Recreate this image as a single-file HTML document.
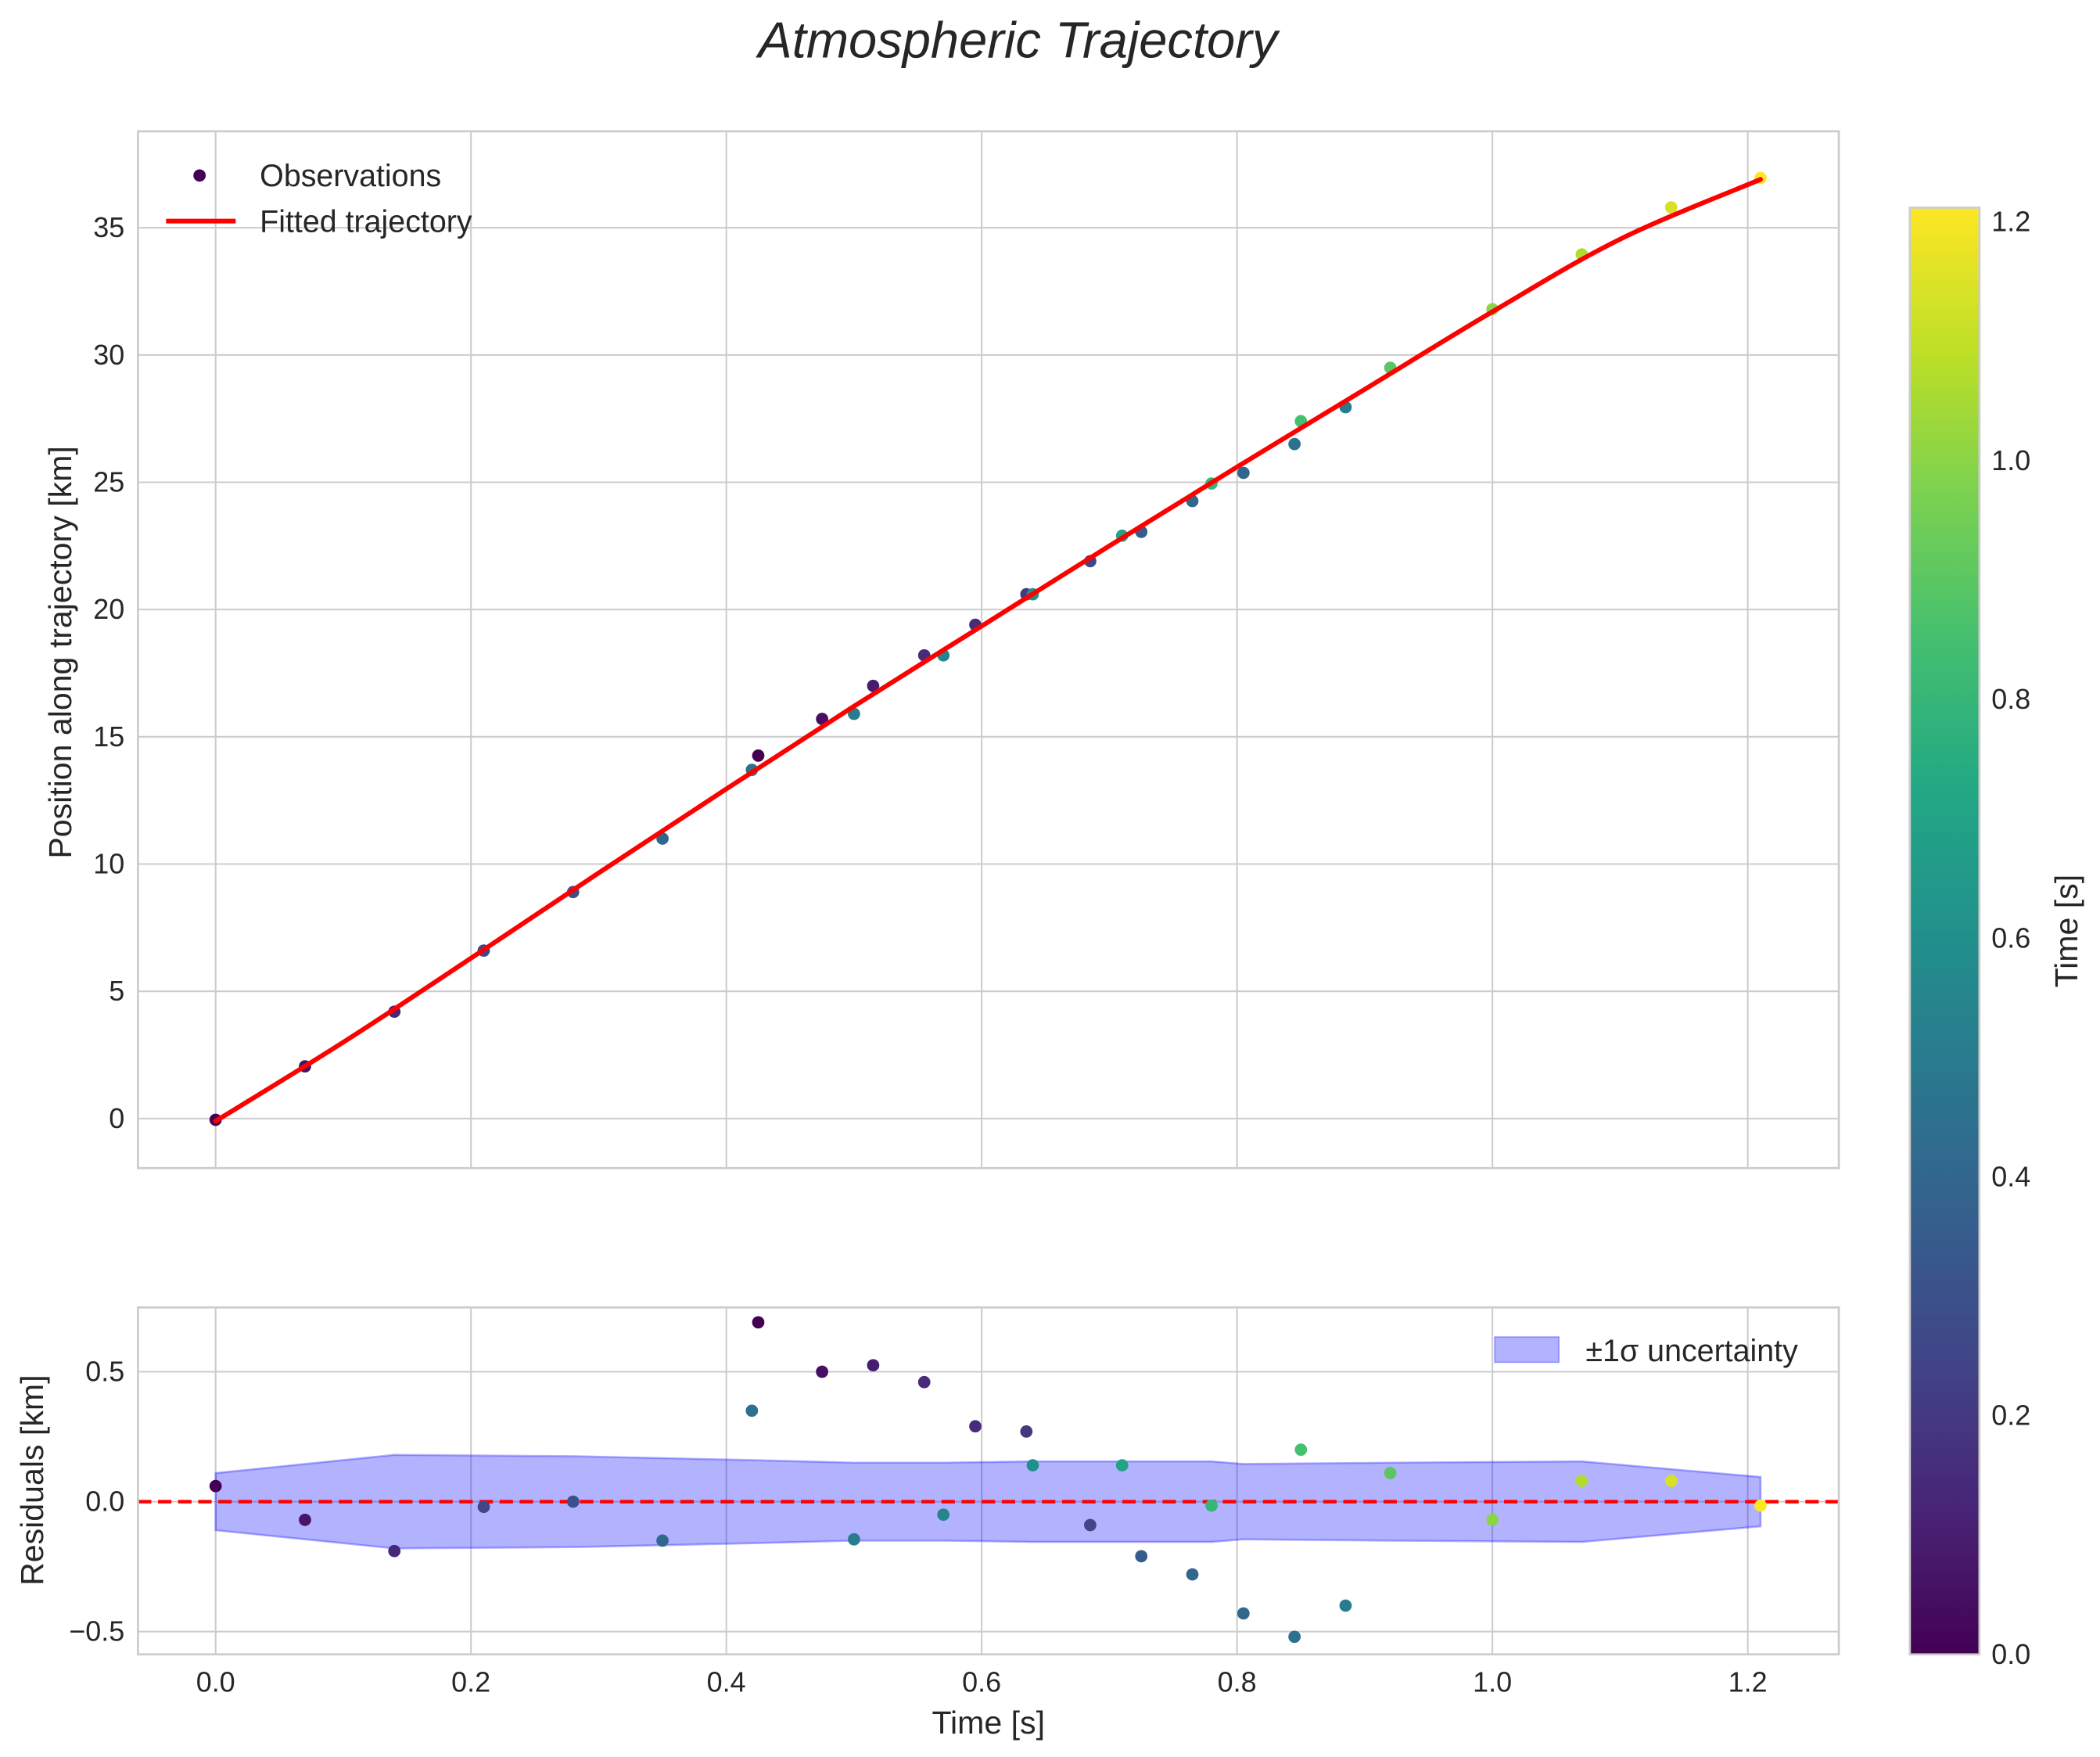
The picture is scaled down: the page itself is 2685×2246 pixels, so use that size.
<!DOCTYPE html>
<html><head><meta charset="utf-8"><style>
html,body{margin:0;padding:0;background:#fff;}
svg{display:block;font-family:"Liberation Sans",sans-serif;}
</style></head><body>
<svg id="chart" width="2685" height="2246" viewBox="0 0 1568 1311.6" xmlns="http://www.w3.org/2000/svg">
<defs>
<linearGradient id="viridis" x1="0" y1="1" x2="0" y2="0">
<stop offset="0" stop-color="#440154"/><stop offset="0.1" stop-color="#482475"/><stop offset="0.2" stop-color="#414487"/><stop offset="0.3" stop-color="#355f8d"/><stop offset="0.4" stop-color="#2a788e"/><stop offset="0.5" stop-color="#21918c"/><stop offset="0.6" stop-color="#22a884"/><stop offset="0.7" stop-color="#44bf70"/><stop offset="0.8" stop-color="#7ad151"/><stop offset="0.9" stop-color="#bddf26"/><stop offset="1" stop-color="#fde725"/>
</linearGradient>
<clipPath id="clipTop"><rect x="103" y="98" width="1270" height="774"/></clipPath>
<clipPath id="clipBot"><rect x="103" y="976" width="1270" height="259"/></clipPath>
</defs>
<text x="760" y="43" font-size="38" font-style="italic" fill="#262626" text-anchor="middle">Atmospheric Trajectory</text>
<g id="topPanel"></g>
<g id="botPanel"></g>
<g id="cbarPanel"></g>
</svg>
<script>
const times=[0,0.07,0.14,0.21,0.28,0.35,0.42,0.425,0.475,0.5,0.515,0.555,0.57,0.595,0.635,0.64,0.685,0.71,0.725,0.765,0.78,0.805,0.845,0.85,0.885,0.92,1.0,1.07,1.14,1.21];
const positions=[-0.05,2.05,4.2,6.6,8.9,11.0,13.7,14.26,15.7,15.9,17.0,18.2,18.2,19.4,20.6,20.6,21.9,22.9,23.05,24.26,24.95,25.37,26.5,27.4,27.95,29.5,31.8,33.95,35.8,36.95];
const residuals=[0.06,-0.07,-0.19,-0.02,0.0,-0.15,0.35,0.69,0.50,-0.145,0.525,0.46,-0.05,0.29,0.27,0.14,-0.09,0.14,-0.21,-0.28,-0.015,-0.43,-0.52,0.2,-0.40,0.11,-0.07,0.08,0.08,-0.015];
const colorVals=[0.0,0.07,0.14,0.25,0.3,0.4,0.45,0.0,0.05,0.5,0.1,0.15,0.55,0.15,0.2,0.6,0.25,0.7,0.35,0.4,0.8,0.4,0.45,0.85,0.5,0.9,1.0,1.07,1.14,1.21];
const fitTimes=[0,0.1,0.2,0.3,0.4,0.5,0.6,0.7,0.8,0.9,1.0,1.1,1.21];
const fitValues=[-0.1,3.0,6.3,9.65,12.95,16.2,19.35,22.5,25.6,28.65,31.7,34.55,36.9];
const sigmaTimes=[0,0.14,0.28,0.42,0.5,0.57,0.64,0.78,0.805,0.92,1.07,1.21];
const sigmaValues=[0.11,0.18,0.175,0.16,0.15,0.15,0.155,0.155,0.145,0.15,0.155,0.095];
const xTicks=[0,0.2,0.4,0.6,0.8,1.0,1.2];
const xTickLabels=["0.0","0.2","0.4","0.6","0.8","1.0","1.2"];
const yTopTicks=[0,5,10,15,20,25,30,35];
const yBotTicks=[-0.5,0,0.5];
const yBotTickLabels=["\u22120.5","0.0","0.5"];
const cbTicks=[0,0.2,0.4,0.6,0.8,1.0,1.2];
const cbTickLabels=["0.0","0.2","0.4","0.6","0.8","1.0","1.2"];

const NS="http://www.w3.org/2000/svg";
const X=t=>161+(t-0)*(1305-161)/1.2;
const YT=v=>835-v*(835-170)/35;
const YB=v=>1121-v*194;
const CB=v=>1235-v*(1235-155)/1.212;
const TF=21, LF=24, GF=23;
const vir=["#440154","#482475","#414487","#355f8d","#2a788e","#21918c","#22a884","#44bf70","#7ad151","#bddf26","#fde725"];
function hex(c){return [1,3,5].map(i=>parseInt(c.substr(i,2),16));}
function cmap(v){let f=Math.max(0,Math.min(1,v/1.212))*10;let i=Math.min(9,Math.floor(f));let a=hex(vir[i]),b=hex(vir[i+1]),r=f-i;return "rgb("+a.map((x,k)=>Math.round(x+(b[k]-x)*r)).join(",")+")";}
function el(tag,attrs,parent,text){const e=document.createElementNS(NS,tag);for(const k in attrs)e.setAttribute(k,attrs[k]);if(text!==undefined)e.textContent=text;parent.appendChild(e);return e;}
function smoothPath(pts){let d="M"+pts[0][0]+","+pts[0][1];for(let i=0;i<pts.length-1;i++){const p0=pts[Math.max(0,i-1)],p1=pts[i],p2=pts[i+1],p3=pts[Math.min(pts.length-1,i+2)];
const c1=[p1[0]+(p2[0]-p0[0])/6,p1[1]+(p2[1]-p0[1])/6],c2=[p2[0]-(p3[0]-p1[0])/6,p2[1]-(p3[1]-p1[1])/6];d+=" C"+c1.join(",")+" "+c2.join(",")+" "+p2.join(",");}return d;}
const topG=document.getElementById('topPanel'),botG=document.getElementById('botPanel'),cbG=document.getElementById('cbarPanel');
const G="#cccccc";
xTicks.forEach(t=>{const l=el('line',{x1:X(t),x2:X(t),y1:98,y2:872,stroke:G,'stroke-width':1.2},topG);

});
yTopTicks.forEach(v=>{const l=el('line',{x1:103,x2:1373,y1:YT(v),y2:YT(v),stroke:G,'stroke-width':1.2},topG);


const t=el('text',{x:93,y:YT(v)+7,'font-size':TF,fill:'#262626','text-anchor':'end'},topG,String(v));

});
const gp=el('g',{'clip-path':'url(#clipTop)'},topG);
times.forEach((t,i)=>{const c=el('circle',{cx:X(t),cy:YT(positions[i]),r:4.6,fill:cmap(colorVals[i])},gp);

});
const fl=el('path',{d:smoothPath(fitTimes.map((t,i)=>[X(t),YT(fitValues[i])])),fill:'none',stroke:'#ff0000','stroke-width':3.5,'stroke-linecap':'round'},gp);


const sp=el('rect',{x:103,y:98,width:1270,height:774,fill:'none',stroke:G,'stroke-width':1.6},topG);


const yl=el('text',{x:0,y:0,transform:'translate(53,487) rotate(-90)','font-size':LF,fill:'#262626','text-anchor':'middle'},topG,'Position along trajectory [km]');


const lg=el('g',{},topG);


const ld=el('circle',{cx:149,cy:131,r:4.6,fill:'#440154'},lg);


const lt1=el('text',{x:194,y:139,'font-size':GF,fill:'#262626'},lg,'Observations');


const ll=el('line',{x1:124,x2:176,y1:165,y2:165,stroke:'#ff0000','stroke-width':3.5},lg);


const lt2=el('text',{x:194,y:173,'font-size':GF,fill:'#262626'},lg,'Fitted trajectory');



xTicks.forEach((t,i)=>{const l=el('line',{x1:X(t),x2:X(t),y1:976,y2:1235,stroke:G,'stroke-width':1.2},botG);


const tx=el('text',{x:X(t),y:1263,'font-size':TF,fill:'#262626','text-anchor':'middle'},botG,xTickLabels[i]);

});
yBotTicks.forEach((v,i)=>{const l=el('line',{x1:103,x2:1373,y1:YB(v),y2:YB(v),stroke:G,'stroke-width':1.2},botG);


const t=el('text',{x:93,y:YB(v)+7,'font-size':TF,fill:'#262626','text-anchor':'end'},botG,yBotTickLabels[i]);

});
const gb=el('g',{'clip-path':'url(#clipBot)'},botG);
const up=sigmaTimes.map((t,i)=>X(t)+","+YB(sigmaValues[i]));
const dn=sigmaTimes.map((t,i)=>X(t)+","+YB(-sigmaValues[i])).reverse();
const band=el('polygon',{points:up.concat(dn).join(" "),fill:'rgba(0,0,255,0.3)',stroke:'rgba(0,0,255,0.3)','stroke-width':1.5},gb);


const zl=el('line',{x1:103,x2:1373,y1:YB(0),y2:YB(0),stroke:'#ff0000','stroke-width':2.6,'stroke-dasharray':'10,5'},gb);


times.forEach((t,i)=>{const c=el('circle',{cx:X(t),cy:YB(residuals[i]),r:4.6,fill:cmap(colorVals[i])},gb);

});
const sp2=el('rect',{x:103,y:976,width:1270,height:259,fill:'none',stroke:G,'stroke-width':1.6},botG);


const xl=el('text',{x:738,y:1294,'font-size':LF,fill:'#262626','text-anchor':'middle'},botG,'Time [s]');


const yl2=el('text',{x:0,y:0,transform:'translate(32,1105) rotate(-90)','font-size':LF,fill:'#262626','text-anchor':'middle'},botG,'Residuals [km]');


const lg2=el('g',{},botG);


const lr=el('rect',{x:1116,y:998,width:48,height:19,fill:'rgba(0,0,255,0.3)',stroke:'rgba(0,0,255,0.3)'},lg2);


const lt3=el('text',{x:1184,y:1016,'font-size':GF,fill:'#262626'},lg2,'\u00b11\u03c3 uncertainty');



const cr=el('rect',{x:1426,y:155,width:52,height:1080,fill:'url(#viridis)',stroke:G,'stroke-width':1.6},cbG);


cbTicks.forEach((v,i)=>{const t=el('text',{x:1487,y:CB(v)+7,'font-size':TF,fill:'#262626'},cbG,cbTickLabels[i]);

});
const cl=el('text',{x:0,y:0,transform:'translate(1551,695) rotate(-90)','font-size':LF,fill:'#262626','text-anchor':'middle'},cbG,'Time [s]');


</script>
</body></html>
